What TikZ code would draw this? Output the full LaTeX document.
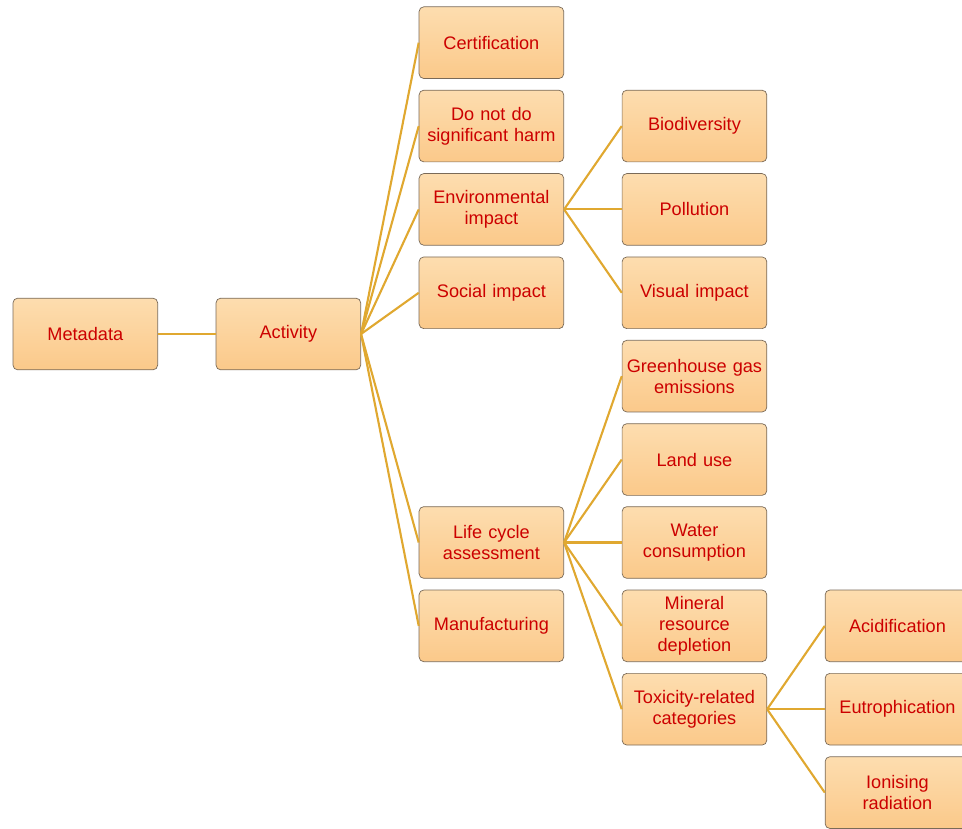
\documentclass[tikz,border=0pt]{standalone}
\usepackage{fontspec}
\setmainfont{Liberation Sans}
\usetikzlibrary{positioning}
\definecolor{boxtop}{HTML}{FDDDAF}
\definecolor{boxbot}{HTML}{FBC98A}
\definecolor{boxrim}{HTML}{7A6A58}
\definecolor{linkcol}{HTML}{E0A830}
\definecolor{labred}{HTML}{CC0000}
\tikzstyle{catbox}=[rectangle, rounded corners=4pt, draw=boxrim, line width=0.6pt, top color=boxtop,
bottom color=boxbot, minimum width=4.34cm, minimum height=2.15cm, inner sep=1pt, text centered,
text width=4.2cm, text=labred, font=\fontsize{15.5}{18}\selectfont]
\tikzstyle{conn}=[-, line width=1.8pt, linkcol]
\begin{document}
\begin{tikzpicture}[node distance=0.33cm]
\useasboundingbox (0,0) rectangle (28.86,-24.84);

    \node (meta) [catbox] at (2.56,-10.02) {Metadata};
    \node (act) [catbox, right=1.73cm of meta] {Activity};

%activity children
	\node(cert)[catbox, right=1.73cm of act, yshift=8.74cm]{Certification};
	\node(dnsh)[catbox, below=of cert]{Do not do\\significant harm};
	\node(env)[catbox, below=of dnsh]{Environmental\\impact};
	\node(soc)[catbox, below=of env]{Social impact};
	\node(lca)[catbox, below=5.32cm of soc]{Life cycle\\assessment};
	\node(manu)[catbox, below=of lca]{Manufacturing};

%environmental impact
	\node(bio)[catbox, right=1.73cm of dnsh]{Biodiversity};
	\node(poll)[catbox, right=1.73cm of env]{Pollution};
	\node(vis)[catbox, right=1.73cm of soc]{Visual impact};

%life cycle assessment
	\node(ghg)[catbox, below=of vis]{Greenhouse gas\\emissions};
	\node(land)[catbox, below=of ghg]{Land use};
	\node(water)[catbox, right=1.73cm of lca]{Water\\consumption};
	\node(mine)[catbox, right=1.73cm of manu]{Mineral\\resource\\depletion};
	\node(tox)[catbox, below=of mine]{Toxicity-related\\categories};

%toxicity
	\node(acid)[catbox, right=1.73cm of mine]{Acidification};
	\node(eut)[catbox, right=1.73cm of tox]{Eutrophication};
	\node(ion)[catbox, below=of eut]{Ionising\\radiation};

%Lines ..
   \draw[conn] (meta.east) -- (act.west);
\draw[conn] (act.east) -- (cert.west);
\draw[conn] (act.east) -- (dnsh.west);
\draw[conn] (act.east) -- (env.west);
\draw[conn] (act.east) -- (soc.west);
\draw[conn] (act.east) -- (lca.west);
\draw[conn] (act.east) -- (manu.west);

\draw[conn] (env.east) -- (bio.west);
\draw[conn] (env.east) -- (poll.west);
\draw[conn] (env.east) -- (vis.west);

\draw[conn] (lca.east) -- (ghg.west);
\draw[conn] (lca.east) -- (land.west);
\draw[conn] (lca.east) -- (water.west);
\draw[conn] (lca.east) -- (mine.west);
\draw[conn] (lca.east) -- (tox.west);

\draw[conn] (tox.east) -- (acid.west);
\draw[conn] (tox.east) -- (eut.west);
\draw[conn] (tox.east) -- (ion.west);

\end{tikzpicture}
\end{document}
